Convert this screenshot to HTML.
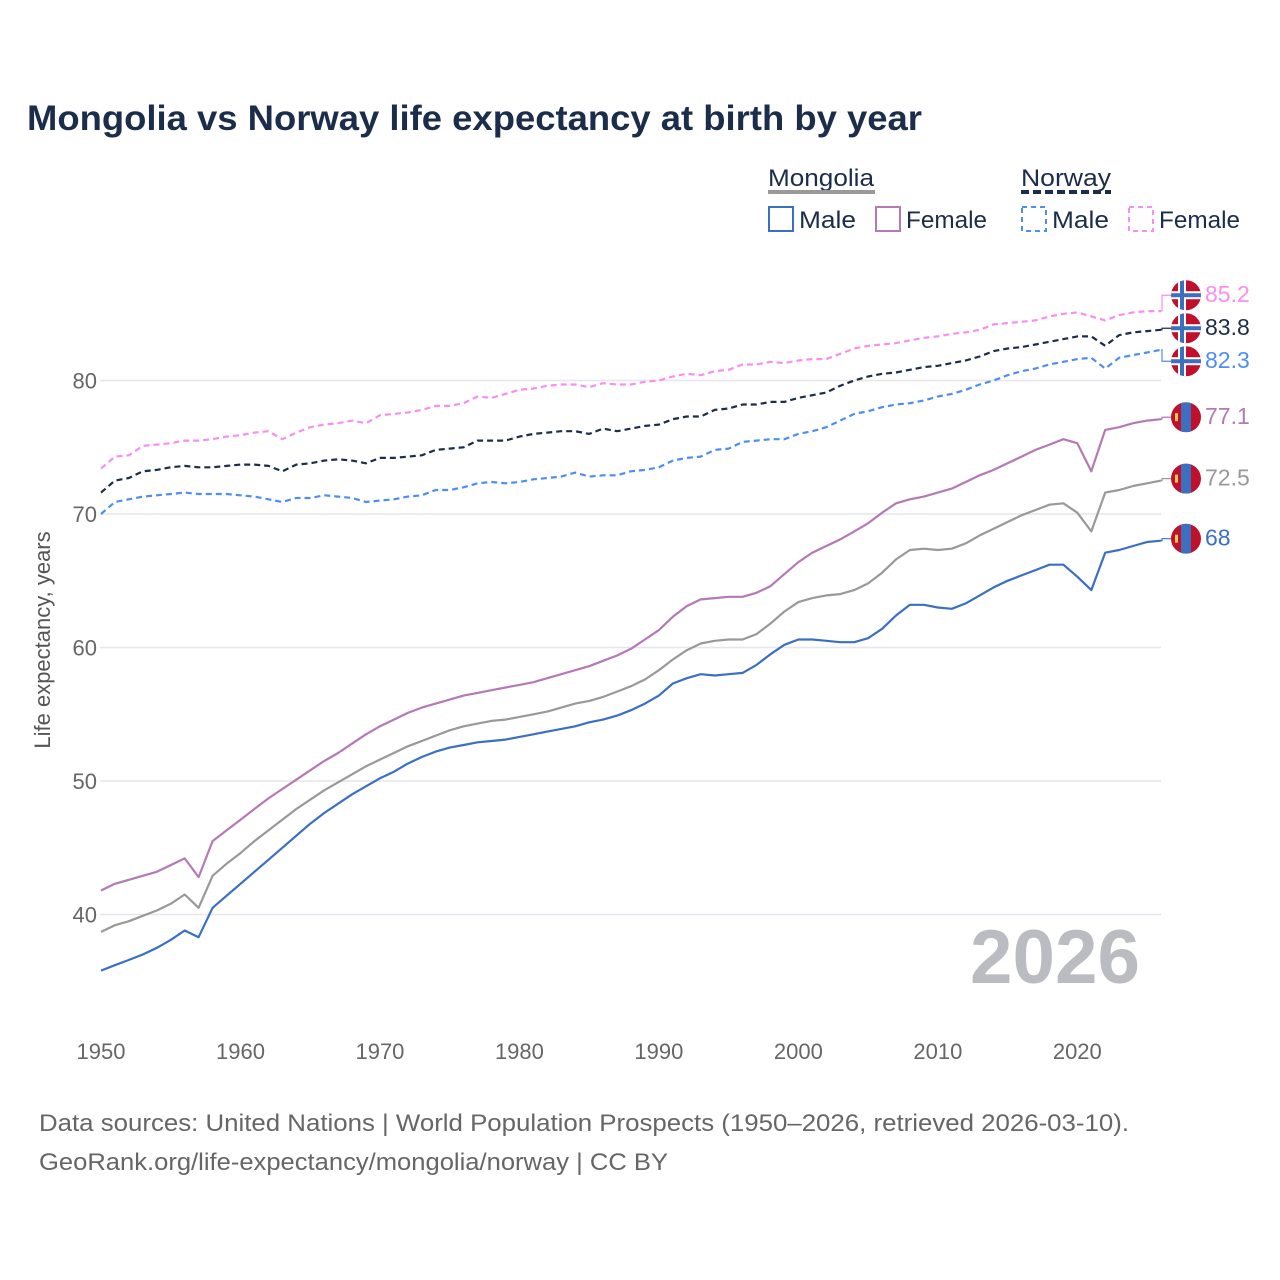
<!DOCTYPE html>
<html><head><meta charset="utf-8"><style>
html,body{margin:0;padding:0;background:#fff;}
svg{display:block;font-family:"Liberation Sans",sans-serif;}
</style></head><body>
<svg id="chart" width="1280" height="1280" viewBox="0 0 1280 1280">
<text x="27" y="130" font-size="35" font-weight="bold" fill="#1b2d4b" textLength="895" lengthAdjust="spacingAndGlyphs">Mongolia vs Norway life expectancy at birth by year</text>
<g>
<text x="768" y="186" font-size="24" fill="#1b2d4b" textLength="106" lengthAdjust="spacingAndGlyphs">Mongolia</text>
<line x1="768" y1="192" x2="875" y2="192" stroke="#999" stroke-width="4"/>
<rect x="769" y="207" width="24" height="24" fill="none" stroke="#3a6fc4" stroke-width="2"/>
<text x="799" y="228" font-size="24" fill="#1b2d4b" textLength="57" lengthAdjust="spacingAndGlyphs">Male</text>
<rect x="876" y="207" width="24" height="24" fill="none" stroke="#b37ab5" stroke-width="2"/>
<text x="906" y="228" font-size="24" fill="#1b2d4b" textLength="81" lengthAdjust="spacingAndGlyphs">Female</text>
<text x="1021" y="186" font-size="24" fill="#1b2d4b" textLength="90" lengthAdjust="spacingAndGlyphs">Norway</text>
<line x1="1021" y1="192" x2="1111" y2="192" stroke="#1b2d4b" stroke-width="4" stroke-dasharray="8,4"/>
<rect x="1022" y="207" width="24" height="24" fill="none" stroke="#4d8ef0" stroke-width="2" stroke-dasharray="5,4"/>
<text x="1052" y="228" font-size="24" fill="#1b2d4b" textLength="57" lengthAdjust="spacingAndGlyphs">Male</text>
<rect x="1129" y="207" width="24" height="24" fill="none" stroke="#f78ff0" stroke-width="2" stroke-dasharray="5,4"/>
<text x="1159" y="228" font-size="24" fill="#1b2d4b" textLength="81" lengthAdjust="spacingAndGlyphs">Female</text>
</g>
<g id="grid"></g>
<g id="yticks"></g>
<g id="xticks"></g>
<text transform="translate(50,640) rotate(-90)" text-anchor="middle" font-size="22" fill="#555">Life expectancy, years</text>
<text x="1140" y="983" text-anchor="end" font-size="76" font-weight="bold" fill="#bbbcc2" textLength="170" lengthAdjust="spacingAndGlyphs">2026</text>
<g id="series"></g>
<g id="labels"></g>
<text x="39" y="1131" font-size="24" fill="#666" textLength="1090" lengthAdjust="spacingAndGlyphs">Data sources: United Nations | World Population Prospects (1950–2026, retrieved 2026-03-10).</text>
<text x="39" y="1170" font-size="24" fill="#666" textLength="629" lengthAdjust="spacingAndGlyphs">GeoRank.org/life-expectancy/mongolia/norway | CC BY</text>
</svg>
<script>
const startYear = 1950;
const yTicks = [40, 50, 60, 70, 80];
const xTicks = [1950, 1960, 1970, 1980, 1990, 2000, 2010, 2020];
const mongoliaMale = [35.8,36.2,36.6,37.0,37.5,38.1,38.8,38.3,40.5,41.4,42.3,43.2,44.1,45.0,45.9,46.8,47.6,48.3,49.0,49.6,50.2,50.7,51.3,51.8,52.2,52.5,52.7,52.9,53.0,53.1,53.3,53.5,53.7,53.9,54.1,54.4,54.6,54.9,55.3,55.8,56.4,57.3,57.7,58.0,57.9,58.0,58.1,58.7,59.5,60.2,60.6,60.6,60.5,60.4,60.4,60.7,61.4,62.4,63.2,63.2,63.0,62.9,63.3,63.9,64.5,65.0,65.4,65.8,66.2,66.2,65.3,64.3,67.1,67.3,67.6,67.9,68.0];
const mongoliaTotal = [38.7,39.2,39.5,39.9,40.3,40.8,41.5,40.5,42.9,43.8,44.6,45.5,46.3,47.1,47.9,48.6,49.3,49.9,50.5,51.1,51.6,52.1,52.6,53.0,53.4,53.8,54.1,54.3,54.5,54.6,54.8,55.0,55.2,55.5,55.8,56.0,56.3,56.7,57.1,57.6,58.3,59.1,59.8,60.3,60.5,60.6,60.6,61.0,61.8,62.7,63.4,63.7,63.9,64.0,64.3,64.8,65.6,66.6,67.3,67.4,67.3,67.4,67.8,68.4,68.9,69.4,69.9,70.3,70.7,70.8,70.1,68.7,71.6,71.8,72.1,72.3,72.5];
const mongoliaFemale = [41.8,42.3,42.6,42.9,43.2,43.7,44.2,42.8,45.5,46.3,47.1,47.9,48.7,49.4,50.1,50.8,51.5,52.1,52.8,53.5,54.1,54.6,55.1,55.5,55.8,56.1,56.4,56.6,56.8,57.0,57.2,57.4,57.7,58.0,58.3,58.6,59.0,59.4,59.9,60.6,61.3,62.3,63.1,63.6,63.7,63.8,63.8,64.1,64.6,65.5,66.4,67.1,67.6,68.1,68.7,69.3,70.1,70.8,71.1,71.3,71.6,71.9,72.4,72.9,73.3,73.8,74.3,74.8,75.2,75.6,75.3,73.2,76.3,76.5,76.8,77.0,77.1];
const norwayTotal = [71.6,72.5,72.7,73.2,73.3,73.5,73.6,73.5,73.5,73.6,73.7,73.7,73.6,73.2,73.7,73.8,74.0,74.1,74.0,73.8,74.2,74.2,74.3,74.4,74.8,74.9,75.0,75.5,75.5,75.5,75.8,76.0,76.1,76.2,76.2,76.0,76.4,76.2,76.4,76.6,76.7,77.1,77.3,77.3,77.8,77.9,78.2,78.2,78.4,78.4,78.7,78.9,79.1,79.6,80.0,80.3,80.5,80.6,80.8,81.0,81.1,81.3,81.5,81.8,82.2,82.4,82.5,82.7,82.9,83.1,83.3,83.3,82.6,83.4,83.6,83.7,83.8];
const norwayMale = [70.0,70.9,71.1,71.3,71.4,71.5,71.6,71.5,71.5,71.5,71.4,71.3,71.1,70.9,71.2,71.2,71.4,71.3,71.2,70.9,71.0,71.1,71.3,71.4,71.8,71.8,72.0,72.3,72.4,72.3,72.4,72.6,72.7,72.8,73.1,72.8,72.9,72.9,73.2,73.3,73.5,74.0,74.2,74.3,74.8,74.9,75.4,75.5,75.6,75.6,76.0,76.2,76.5,77.0,77.5,77.7,78.0,78.2,78.3,78.5,78.8,79.0,79.3,79.7,80.0,80.4,80.7,80.9,81.2,81.4,81.6,81.7,80.9,81.7,81.9,82.1,82.3];
const norwayFemale = [73.4,74.3,74.4,75.1,75.2,75.3,75.5,75.5,75.6,75.8,75.9,76.1,76.2,75.6,76.1,76.5,76.7,76.8,77.0,76.8,77.4,77.5,77.6,77.8,78.1,78.1,78.3,78.8,78.7,79.0,79.3,79.4,79.6,79.7,79.7,79.5,79.8,79.7,79.7,79.9,80.0,80.3,80.5,80.4,80.7,80.8,81.2,81.2,81.4,81.3,81.5,81.6,81.6,82.0,82.4,82.6,82.7,82.8,83.0,83.2,83.3,83.5,83.6,83.8,84.2,84.3,84.4,84.5,84.8,85.0,85.1,84.8,84.5,84.9,85.1,85.2,85.2];

const NS = 'http://www.w3.org/2000/svg';
const x0 = 101, x1 = 1161, yearSpan = 76;
function xScale(yr){ return x0 + (yr - startYear) * (x1 - x0) / yearSpan; }
function yScale(v){ return 380.5 + (80 - v) * 13.35; }
function mk(tag, attrs, parent){ const e = document.createElementNS(NS, tag); for (const k in attrs) e.setAttribute(k, attrs[k]); parent.appendChild(e); return e; }

const grid = document.getElementById('grid'), yt = document.getElementById('yticks'), xt = document.getElementById('xticks');
yTicks.forEach(v => {
  const l = mk('line', {x1: 100, x2: 1161, y1: yScale(v), y2: yScale(v), stroke: '#e6e6ec', 'stroke-width': 1.5}, grid);
  
  
  const t = mk('text', {x: 97, y: yScale(v) + 8, 'text-anchor': 'end', 'font-size': 22, fill: '#666'}, yt);
  t.textContent = v;
  
  
});
xTicks.forEach(yr => {
  const t = mk('text', {x: xScale(yr), y: 1059, 'text-anchor': 'middle', 'font-size': 22, fill: '#666'}, xt);
  t.textContent = yr;
  
  
});

const seriesDefs = [
  {name: 'norway-female', data: norwayFemale, color: '#f78ff0', dash: '6,4', flag: 'no', label: '#f78ff0'},
  {name: 'norway-total', data: norwayTotal, color: '#1b2d4b', dash: '6,4', flag: 'no', label: '#1b2d4b'},
  {name: 'norway-male', data: norwayMale, color: '#4d8ef0', dash: '6,4', flag: 'no', label: '#4d8ef0'},
  {name: 'mongolia-female', data: mongoliaFemale, color: '#b37ab5', dash: null, flag: 'mn', label: '#b37ab5'},
  {name: 'mongolia-total', data: mongoliaTotal, color: '#999999', dash: null, flag: 'mn', label: '#999999'},
  {name: 'mongolia-male', data: mongoliaMale, color: '#3a6fc4', dash: null, flag: 'mn', label: '#3a6fc4'}
];
const sg = document.getElementById('series'), lg = document.getElementById('labels');
seriesDefs.forEach(s => {
  const pts = s.data.map((v, i) => xScale(startYear + i).toFixed(1) + ',' + yScale(v).toFixed(1)).join(' ');
  const a = {points: pts, fill: 'none', stroke: s.color, 'stroke-width': 2.2, 'stroke-linejoin': 'round'};
  if (s.dash) a['stroke-dasharray'] = s.dash;
  const p = mk('polyline', a, sg);
  
  
});
const ends = seriesDefs.map(s => yScale(s.data[s.data.length - 1]));
const pos = ends.slice();
for (let it = 0; it < 20; it++) {
  for (let i = 0; i < pos.length - 1; i++) {
    const gap = pos[i + 1] - pos[i];
    if (gap < 33) { const d = (33 - gap) / 2; pos[i] -= d; pos[i + 1] += d; }
  }
}
seriesDefs.forEach((s, i) => {
  const ye = ends[i], yl = pos[i] - 2, ex = xScale(startYear + s.data.length - 1);
  const c = mk('polyline', {points: ex + ',' + ye + ' ' + (ex + 1) + ',' + ye + ' ' + (ex + 1) + ',' + yl + ' 1172,' + yl, fill: 'none', stroke: s.color, 'stroke-width': 1.2}, lg);
  
  
  const g = mk('g', {transform: 'translate(1186,' + yl + ')'}, lg);
  
  
  mk('clipPath', {id: 'cp' + i}, g).appendChild(document.createElementNS(NS, 'circle')).setAttribute('r', 15);
  const f = mk('g', {'clip-path': 'url(#cp' + i + ')'}, g);
  mk('rect', {x: -15, y: -15, width: 30, height: 30, fill: '#c0102b'}, f);
  if (s.flag === 'no') {
    mk('rect', {x: -15, y: -4, width: 30, height: 8, fill: '#fff'}, f);
    mk('rect', {x: -8, y: -15, width: 8, height: 30, fill: '#fff'}, f);
    mk('rect', {x: -15, y: -2, width: 30, height: 4, fill: '#3d6fc0'}, f);
    mk('rect', {x: -6, y: -15, width: 4, height: 30, fill: '#3d6fc0'}, f);
  } else {
    mk('rect', {x: -5, y: -15, width: 10, height: 30, fill: '#3d6fc0'}, f);
    mk('rect', {x: -11, y: -4, width: 3, height: 8, fill: '#f2c84b'}, f);
  }
  const t = mk('text', {x: 1205, y: yl + 7, 'font-size': 23, fill: s.label}, lg);
  t.textContent = String(s.data[s.data.length - 1]);
  
  
});
</script>
</body></html>
